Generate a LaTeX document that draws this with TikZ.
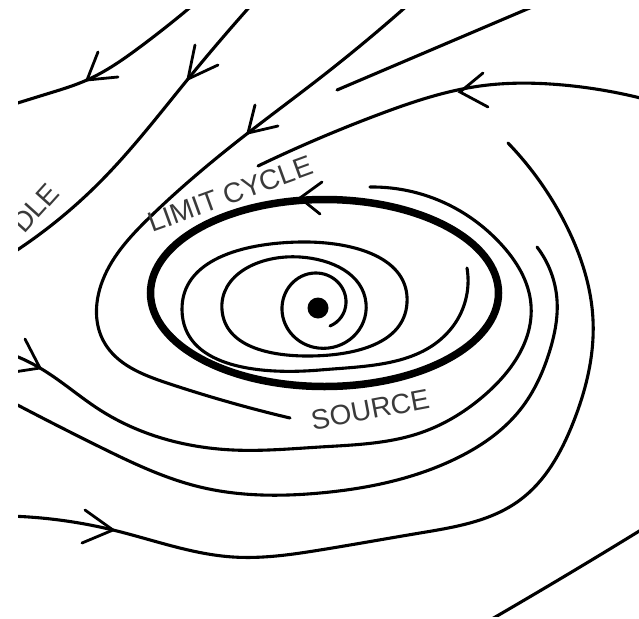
\documentclass[tikz,border=0pt]{standalone}
\usepackage{fontspec}
\setmainfont{Liberation Sans}
\usetikzlibrary{hobby}
\definecolor{labelgray}{HTML}{3A3A3A}
\begin{document}
\begin{tikzpicture}[x=1pt,y=-1pt]
\tikzset{
  flow/.style={line width=3.1pt, line cap=round, line join=round, use Hobby shortcut},
  barb/.style={line width=2.8pt, line cap=round, line join=miter},
  cycleline/.style={line width=7.5pt},
  lbl/.style={text=labelgray, font=\fontsize{28}{32}\selectfont, inner sep=0pt}
}
\useasboundingbox (0,0) rectangle (639,618);
\begin{scope}
\clip (18,10) rectangle (639,616);
% upper-left flow lines
\draw[flow] (193,5) .. (140,47) .. (87,80) .. (50,93) .. (8,106);
\draw[barb] (98,52) -- (87,80) -- (118,77);
\draw[flow] (253,3) .. (188,79) .. (100,182) .. (8,256);
\draw[barb] (195,45) -- (188,79) -- (218,65);
\draw[flow] (409,4) .. (320,78) .. (248,133) .. (150,217) .. (101,285) .. (104,342) .. (167,383) .. (290,418);
\draw[barb] (255,105) -- (248,133) -- (278,126);
\draw[flow] (532,7) -- (337,90);
\draw[flow] (652,101) .. (563,85) .. (480,86) .. (380,114) .. (258,166);
\draw[barb] (483,73) -- (460,92) -- (488,107);
% outer arcs
\draw[flow] (5,352) .. (40,368) .. (100,410) .. (233,450) .. (320,447) .. (420,433) .. (487,393) .. (531,305) .. (500,243) .. (453,207) .. (370,187);
\draw[barb] (25,339) -- (40,368) -- (14,372);
\draw[flow] (8,400) .. (100,447) .. (200,487) .. (320,493) .. (453,460) .. (520,410) .. (550,350) .. (557,300) .. (537,247);
\draw[flow] (8,516) .. (113,530) .. (233,557) .. (320,550) .. (420,533) .. (520,500) .. (573,423) .. (593,320) .. (567,227) .. (508,143);
\draw[barb] (85,510) -- (113,530) -- (82,543);
\draw[flow] (662,517) .. (570,573) .. (478,627);
% limit cycle
\draw[cycleline] (324.5,293) ellipse [x radius=174, y radius=93.5];
\draw[barb] (322,182) -- (300,198) -- (320,214);
% source spiral
\draw[flow] (330,326) .. (346,303) .. (315,273) .. (282,310) .. (318,348) .. (366,303) .. (300,257) .. (222,310) .. (310,356) .. (407,303) .. (300,242) .. (182,310) .. (320,370) .. (450,330) .. (467,268);
\fill (318,308) circle [radius=10.5];
% labels
\node[lbl, rotate=20, anchor=base] (lc) at (234,203) {LIMIT CYCLE};
\node[lbl, rotate=10.7, anchor=base] (src) at (372,419) {SOURCE};
\node[lbl, rotate=48, anchor=base east] (sad) at (61,194) {DLE};
\end{scope}
\end{tikzpicture}
\end{document}
